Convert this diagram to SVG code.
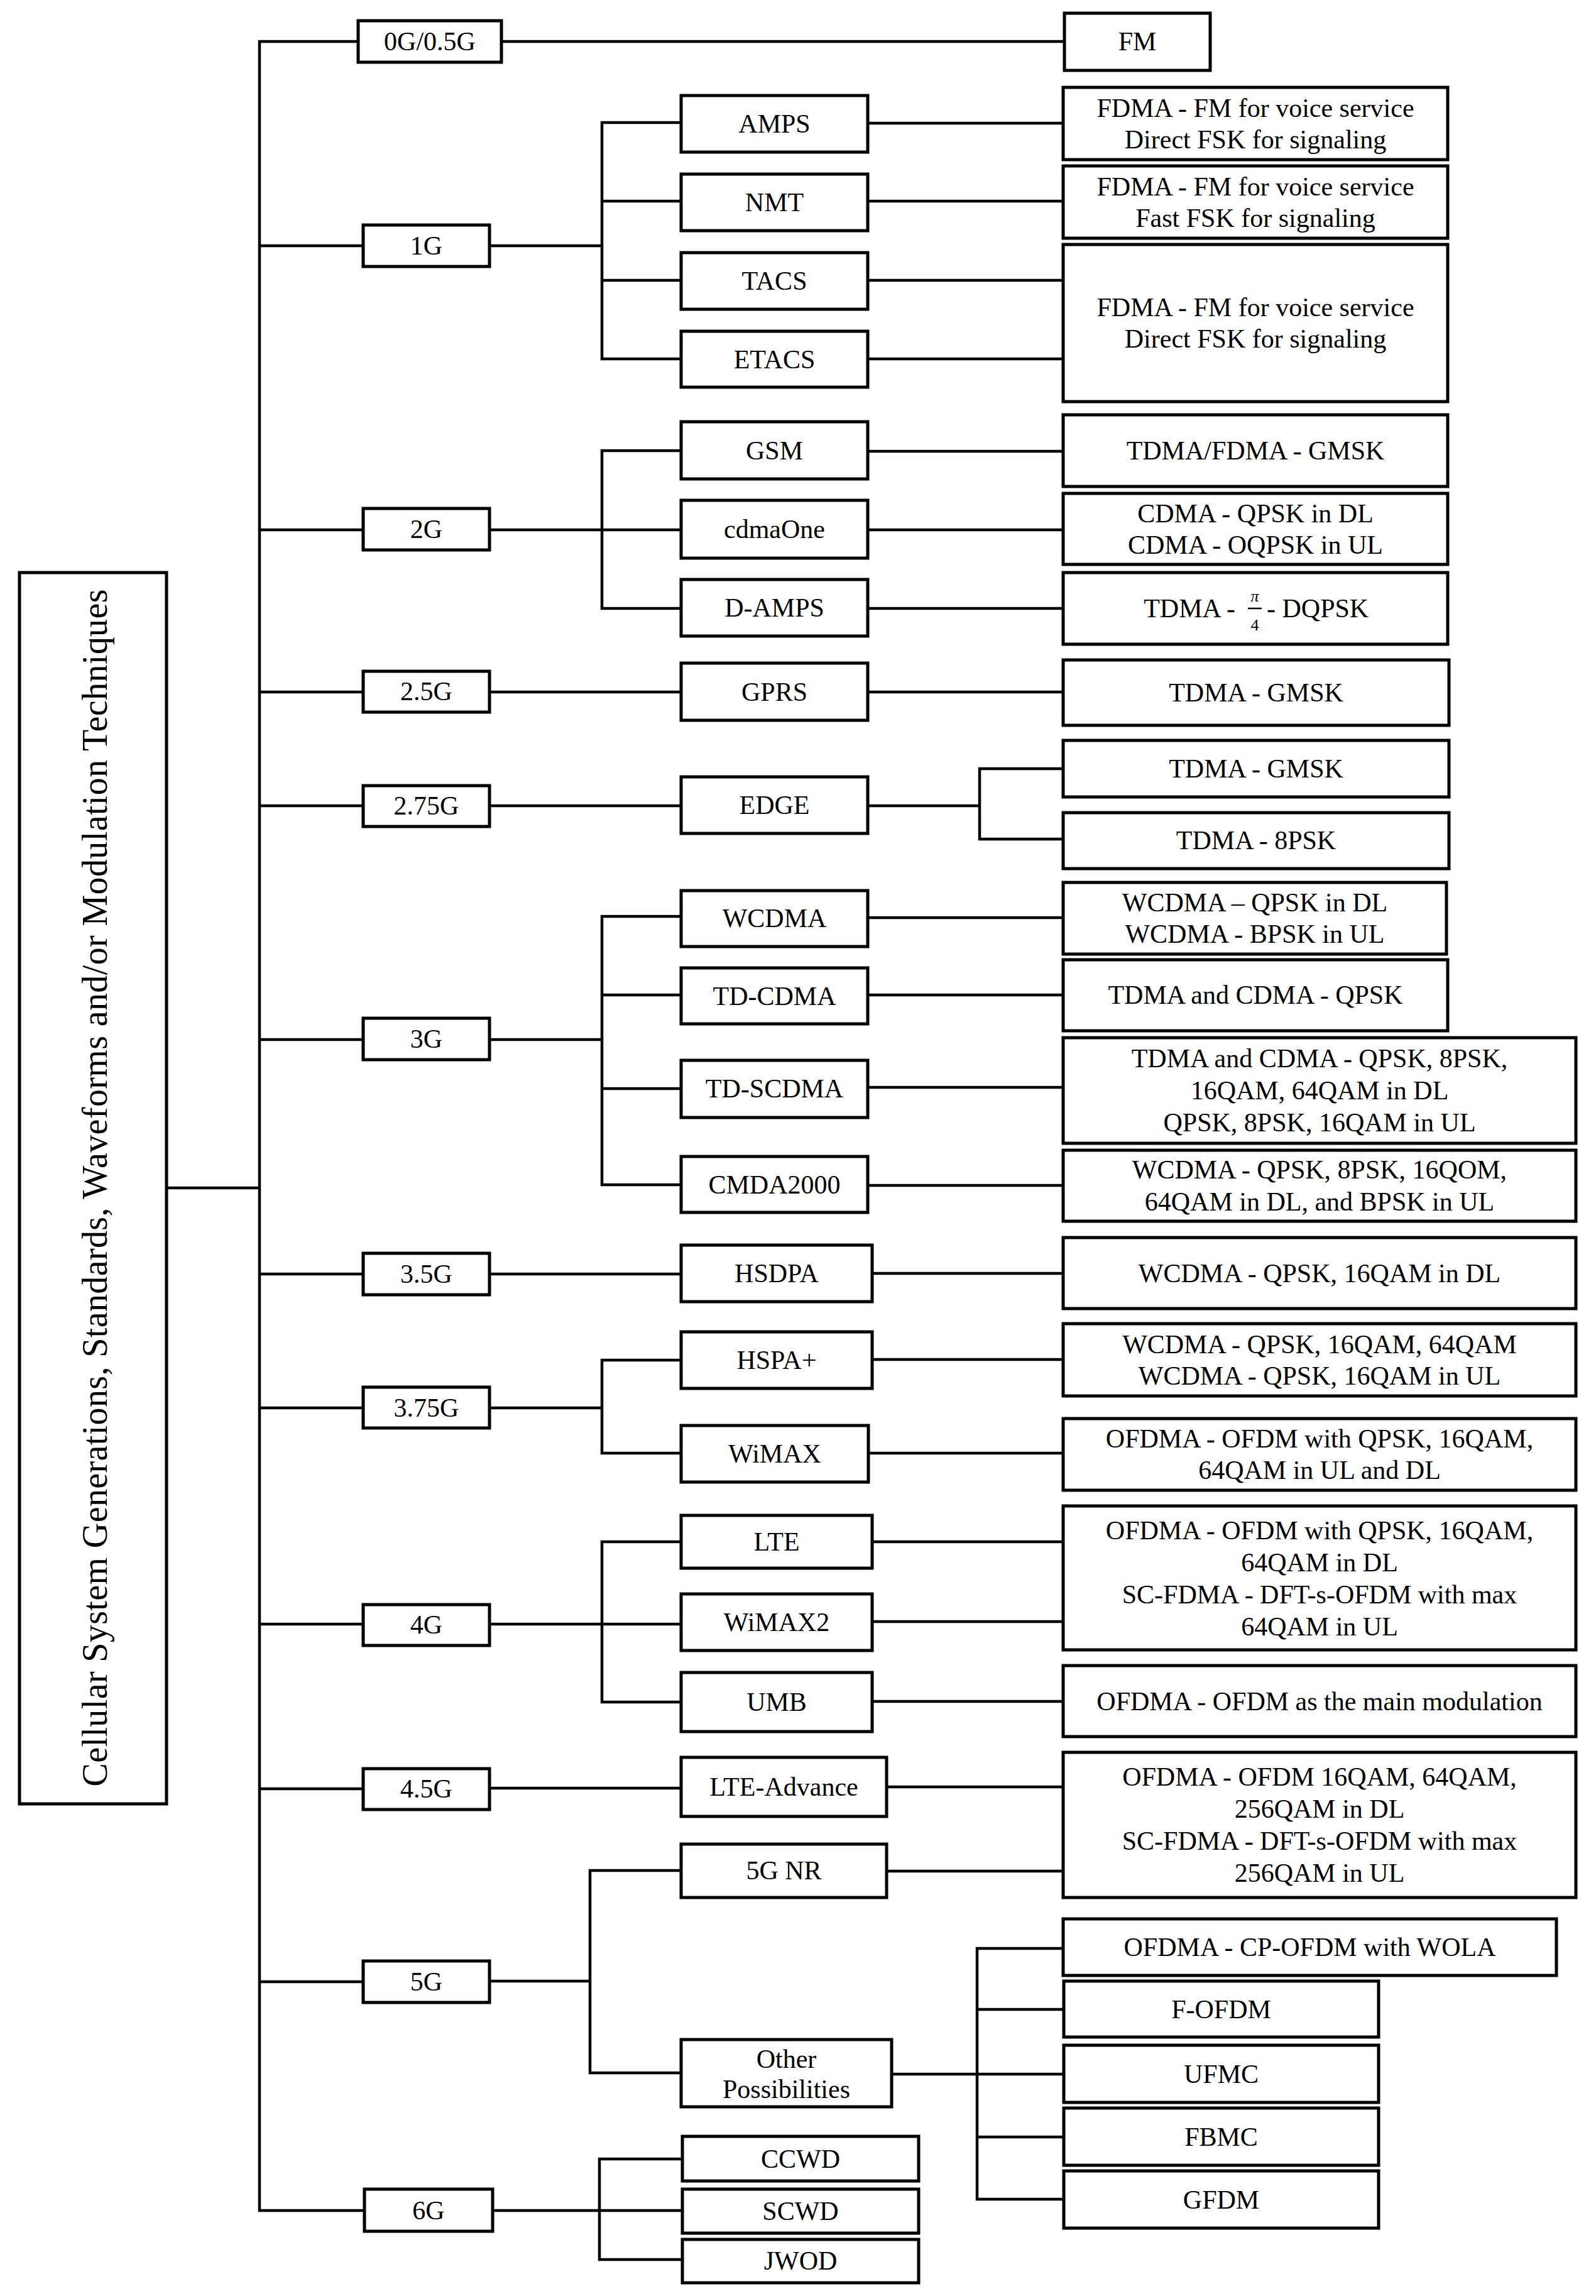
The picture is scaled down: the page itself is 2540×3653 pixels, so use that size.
<svg xmlns="http://www.w3.org/2000/svg" width="2540" height="3653" viewBox="0 0 2540 3653">
<style>
.box{fill:#fff;stroke:#000;stroke-width:5}
.ln{fill:none;stroke:#000;stroke-width:4.5;stroke-linecap:square}
.t{font-family:"Liberation Serif","Times New Roman",serif;font-size:42px;text-anchor:middle;fill:#000}
.s{font-family:"Liberation Serif","Times New Roman",serif;font-size:26px;text-anchor:middle;fill:#000}
</style>
<rect width="2540" height="3653" fill="#fff"/>
<g id="connectors">
<path class="ln" d="M413,66 V3517 M265,1890 H413
M413,66 H570 M798,66 H1694
M413,391 H578 M779,391 H958 M958,195 V571 M958,195 H1084 M958,320 H1084 M958,446 H1084 M958,571 H1084
M1381,196 H1692 M1381,320 H1692 M1381,446 H1692 M1381,571 H1692
M413,843 H578 M779,843 H958 M958,717 V968 M958,717 H1084 M958,843 H1084 M958,968 H1084
M1381,718 H1692 M1381,843 H1692 M1381,968 H1692
M413,1101 H578 M779,1101 H1084 M1381,1101 H1692
M413,1282 H578 M779,1282 H1084 M1381,1282 H1559 M1559,1223 V1335 M1559,1223 H1692 M1559,1335 H1692
M413,1654 H578 M779,1654 H958 M958,1458 V1885 M958,1458 H1084 M958,1583 H1084 M958,1732 H1084 M958,1885 H1084
M1381,1460 H1692 M1381,1583 H1692 M1381,1730 H1692 M1381,1886 H1692
M413,2027 H578 M779,2027 H1084 M1388,2026 H1692
M413,2240 H578 M779,2240 H958 M958,2164 V2312 M958,2164 H1084 M958,2312 H1084
M1388,2163 H1692 M1382,2312 H1692
M413,2584 H578 M779,2584 H958 M958,2453 V2708 M958,2453 H1084 M958,2584 H1084 M958,2708 H1084
M1388,2453 H1692 M1388,2580 H1692 M1388,2707 H1692
M413,2846 H578 M779,2845 H1084 M1411,2843 H1692
M413,3153 H578 M779,3152 H939 M939,2976 V3298 M939,2976 H1084 M939,3298 H1084
M1411,2977 H1692
M1419,3300 H1555 M1555,3100 V3499 M1555,3100 H1692 M1555,3197 H1693 M1555,3300 H1693 M1555,3400 H1693 M1555,3499 H1693
M413,3517 H580 M784,3517 H954 M954,3435 V3595 M954,3435 H1086 M954,3517 H1086 M954,3595 H1086"/>
</g>
<g id="title"><rect class="box" x="31" y="911" width="234" height="1959"/>
<text x="170" y="1890" transform="rotate(-90 170 1890)" font-family="'Liberation Serif','Times New Roman',serif" font-size="56" text-anchor="middle" textLength="1905" lengthAdjust="spacing">Cellular System Generations, Standards, Waveforms and/or Modulation Techniques</text></g>
<g id="g0"><rect class="box" x="570" y="33" width="228" height="66"/><text class="t" x="684" y="80">0G/0.5G</text></g>
<g id="g1"><rect class="box" x="578" y="358" width="201" height="66"/><text class="t" x="678.5" y="405">1G</text></g>
<g id="g2"><rect class="box" x="578" y="809" width="201" height="66"/><text class="t" x="678.5" y="856">2G</text></g>
<g id="g25"><rect class="box" x="578" y="1068" width="201" height="65"/><text class="t" x="678.5" y="1114">2.5G</text></g>
<g id="g275"><rect class="box" x="578" y="1250" width="201" height="65"/><text class="t" x="678.5" y="1296">2.75G</text></g>
<g id="g3"><rect class="box" x="578" y="1620" width="201" height="66"/><text class="t" x="678.5" y="1667">3G</text></g>
<g id="g35"><rect class="box" x="578" y="1994" width="201" height="66"/><text class="t" x="678.5" y="2041">3.5G</text></g>
<g id="g375"><rect class="box" x="578" y="2207" width="201" height="65"/><text class="t" x="678.5" y="2254">3.75G</text></g>
<g id="g4"><rect class="box" x="578" y="2553" width="201" height="65"/><text class="t" x="678.5" y="2599">4G</text></g>
<g id="g45"><rect class="box" x="578" y="2814" width="201" height="65"/><text class="t" x="678.5" y="2860">4.5G</text></g>
<g id="g5"><rect class="box" x="578" y="3120" width="201" height="66"/><text class="t" x="678.5" y="3167">5G</text></g>
<g id="g6"><rect class="box" x="580" y="3483" width="204" height="67"/><text class="t" x="682" y="3531">6G</text></g>
<g id="amps"><rect class="box" x="1084" y="152" width="297" height="90"/><text class="t" x="1232.5" y="211">AMPS</text></g>
<g id="nmt"><rect class="box" x="1084" y="277" width="297" height="90"/><text class="t" x="1232.5" y="336">NMT</text></g>
<g id="tacs"><rect class="box" x="1084" y="402" width="297" height="90"/><text class="t" x="1232.5" y="461">TACS</text></g>
<g id="etacs"><rect class="box" x="1084" y="527" width="297" height="89"/><text class="t" x="1232.5" y="586">ETACS</text></g>
<g id="gsm"><rect class="box" x="1084" y="671" width="297" height="91"/><text class="t" x="1232.5" y="731">GSM</text></g>
<g id="cdmaone"><rect class="box" x="1084" y="796" width="297" height="92"/><text class="t" x="1232.5" y="856">cdmaOne</text></g>
<g id="damps"><rect class="box" x="1084" y="922" width="297" height="90"/><text class="t" x="1232.5" y="981">D-AMPS</text></g>
<g id="gprs"><rect class="box" x="1084" y="1055" width="297" height="91"/><text class="t" x="1232.5" y="1115">GPRS</text></g>
<g id="edge"><rect class="box" x="1084" y="1236" width="297" height="90"/><text class="t" x="1232.5" y="1295">EDGE</text></g>
<g id="wcdma"><rect class="box" x="1084" y="1417" width="297" height="89"/><text class="t" x="1232.5" y="1475">WCDMA</text></g>
<g id="tdcdma"><rect class="box" x="1084" y="1540" width="297" height="89"/><text class="t" x="1232.5" y="1599">TD-CDMA</text></g>
<g id="tdscdma"><rect class="box" x="1084" y="1687" width="297" height="91"/><text class="t" x="1232.5" y="1746">TD-SCDMA</text></g>
<g id="cmda2000"><rect class="box" x="1084" y="1840" width="297" height="89"/><text class="t" x="1232.5" y="1899">CMDA2000</text></g>
<g id="hsdpa"><rect class="box" x="1084" y="1981" width="304" height="90"/><text class="t" x="1236" y="2040">HSDPA</text></g>
<g id="hspa"><rect class="box" x="1084" y="2119" width="304" height="90"/><text class="t" x="1236" y="2178">HSPA+</text></g>
<g id="wimax"><rect class="box" x="1084" y="2268" width="298" height="90"/><text class="t" x="1233" y="2327">WiMAX</text></g>
<g id="lte"><rect class="box" x="1084" y="2411" width="304" height="84"/><text class="t" x="1236" y="2467">LTE</text></g>
<g id="wimax2"><rect class="box" x="1084" y="2536" width="304" height="90"/><text class="t" x="1236" y="2595">WiMAX2</text></g>
<g id="umb"><rect class="box" x="1084" y="2661" width="304" height="94"/><text class="t" x="1236" y="2722">UMB</text></g>
<g id="lteadv"><rect class="box" x="1084" y="2796" width="327" height="94"/><text class="t" x="1247.5" y="2857">LTE-Advance</text></g>
<g id="nr"><rect class="box" x="1084" y="2934" width="327" height="85"/><text class="t" x="1247.5" y="2990">5G NR</text></g>
<g id="other"><rect class="box" x="1084" y="3245" width="335" height="107"/><text class="t" x="1251.5" y="3290">Other<tspan x="1251.5" y="3338">Possibilities</tspan></text></g>
<g id="ccwd"><rect class="box" x="1086" y="3399" width="376" height="71"/><text class="t" x="1274" y="3449">CCWD</text></g>
<g id="scwd"><rect class="box" x="1086" y="3483" width="376" height="70"/><text class="t" x="1274" y="3532">SCWD</text></g>
<g id="jwod"><rect class="box" x="1086" y="3563" width="376" height="69"/><text class="t" x="1274" y="3611">JWOD</text></g>
<g id="r_fm"><rect class="box" x="1694" y="21" width="232" height="91"/><text class="t" x="1810" y="80">FM</text></g>
<g id="r_amps"><rect class="box" x="1692" y="139" width="612" height="115"/><text class="t" x="1998" y="186">FDMA - FM for voice service<tspan x="1998" y="236">Direct FSK for signaling</tspan></text></g>
<g id="r_nmt"><rect class="box" x="1692" y="264" width="612" height="115"/><text class="t" x="1998" y="311">FDMA - FM for voice service<tspan x="1998" y="361">Fast FSK for signaling</tspan></text></g>
<g id="r_tacs"><rect class="box" x="1692" y="389" width="612" height="250"/><text class="t" x="1998" y="503">FDMA - FM for voice service<tspan x="1998" y="553">Direct FSK for signaling</tspan></text></g>
<g id="r_gsm"><rect class="box" x="1692" y="660" width="612" height="114"/><text class="t" x="1998" y="731">TDMA/FDMA - GMSK</text></g>
<g id="r_cdma"><rect class="box" x="1692" y="785" width="612" height="113"/><text class="t" x="1998" y="831">CDMA - QPSK in DL<tspan x="1998" y="881">CDMA - OQPSK in UL</tspan></text></g>
<g id="r_damps"><rect class="box" x="1692" y="911" width="612" height="114"/>
<text class="t" x="1966" y="982" text-anchor="end" style="text-anchor:end">TDMA -</text>
<text class="s" x="1997" y="957" font-style="italic">π</text>
<line x1="1986" y1="968" x2="2008" y2="968" stroke="#000" stroke-width="2.5"/>
<text class="s" x="1997" y="1003">4</text>
<text class="t" x="2016" y="982" style="text-anchor:start">- DQPSK</text></g>
<g id="r_gprs"><rect class="box" x="1692" y="1050" width="614" height="104"/><text class="t" x="1999" y="1116">TDMA - GMSK</text></g>
<g id="r_edge1"><rect class="box" x="1692" y="1178" width="614" height="90"/><text class="t" x="1999" y="1237">TDMA - GMSK</text></g>
<g id="r_edge2"><rect class="box" x="1692" y="1293" width="614" height="89"/><text class="t" x="1999" y="1351">TDMA - 8PSK</text></g>
<g id="r_wcdma"><rect class="box" x="1692" y="1404" width="610" height="114"/><text class="t" x="1997" y="1450">WCDMA – QPSK in DL<tspan x="1997" y="1500">WCDMA - BPSK in UL</tspan></text></g>
<g id="r_tdcdma"><rect class="box" x="1692" y="1527" width="612" height="113"/><text class="t" x="1998" y="1597">TDMA and CDMA - QPSK</text></g>
<g id="r_tdscdma"><rect class="box" x="1692" y="1651" width="816" height="168"/><text class="t" x="2100" y="1698">TDMA and CDMA - QPSK, 8PSK,<tspan x="2100" y="1749">16QAM, 64QAM in DL</tspan><tspan x="2100" y="1800">QPSK, 8PSK, 16QAM in UL</tspan></text></g>
<g id="r_cmda"><rect class="box" x="1692" y="1830" width="816" height="113"/><text class="t" x="2100" y="1875">WCDMA - QPSK, 8PSK, 16QOM,<tspan x="2100" y="1926">64QAM in DL, and BPSK in UL</tspan></text></g>
<g id="r_hsdpa"><rect class="box" x="1692" y="1969" width="816" height="113"/><text class="t" x="2100" y="2040">WCDMA - QPSK, 16QAM in DL</text></g>
<g id="r_hspa"><rect class="box" x="1692" y="2106" width="816" height="115"/><text class="t" x="2100" y="2153">WCDMA - QPSK, 16QAM, 64QAM<tspan x="2100" y="2203">WCDMA - QPSK, 16QAM in UL</tspan></text></g>
<g id="r_wimax"><rect class="box" x="1692" y="2257" width="816" height="114"/><text class="t" x="2100" y="2303">OFDMA - OFDM with QPSK, 16QAM,<tspan x="2100" y="2353">64QAM in UL and DL</tspan></text></g>
<g id="r_lte"><rect class="box" x="1692" y="2396" width="816" height="229"/><text class="t" x="2100" y="2449">OFDMA - OFDM with QPSK, 16QAM,<tspan x="2100" y="2500">64QAM in DL</tspan><tspan x="2100" y="2551">SC-FDMA - DFT-s-OFDM with max</tspan><tspan x="2100" y="2602">64QAM in UL</tspan></text></g>
<g id="r_umb"><rect class="box" x="1692" y="2650" width="816" height="113"/><text class="t" x="2100" y="2721">OFDMA - OFDM as the main modulation</text></g>
<g id="r_lteadv"><rect class="box" x="1692" y="2788" width="816" height="231"/><text class="t" x="2100" y="2841">OFDMA - OFDM 16QAM, 64QAM,<tspan x="2100" y="2892">256QAM in DL</tspan><tspan x="2100" y="2943">SC-FDMA - DFT-s-OFDM with max</tspan><tspan x="2100" y="2994">256QAM in UL</tspan></text></g>
<g id="r_cp"><rect class="box" x="1692" y="3053" width="785" height="90"/><text class="t" x="2084.5" y="3112">OFDMA - CP-OFDM with WOLA</text></g>
<g id="r_fofdm"><rect class="box" x="1693" y="3152" width="501" height="89"/><text class="t" x="1943.5" y="3211">F-OFDM</text></g>
<g id="r_ufmc"><rect class="box" x="1693" y="3254" width="501" height="91"/><text class="t" x="1943.5" y="3314">UFMC</text></g>
<g id="r_fbmc"><rect class="box" x="1693" y="3354" width="501" height="91"/><text class="t" x="1943.5" y="3414">FBMC</text></g>
<g id="r_gfdm"><rect class="box" x="1693" y="3454" width="501" height="91"/><text class="t" x="1943.5" y="3514">GFDM</text></g>
</svg>
